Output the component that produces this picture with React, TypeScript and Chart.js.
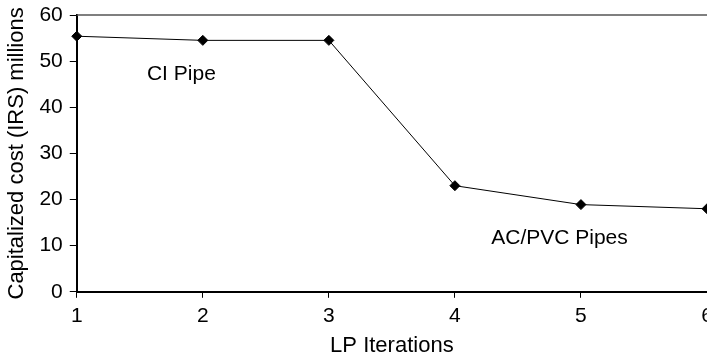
import React, { useEffect, useRef } from "react";
import { Chart, registerables } from "chart.js";

Chart.register(...registerables);

const iterations = [1, 2, 3, 4, 5, 6];
const costs = [55.4, 54.5, 54.5, 23.0, 18.9, 18.0];
const yTicksMax = 60;
const labelTexts = ["CI Pipe", "AC/PVC Pipes"];
const labelX = [1.83, 4.83];
const labelY = [47.2, 11.7];

const FONT = "Arial, 'Liberation Sans', sans-serif";

const annotationPlugin = {
  id: "annots",
  afterDatasetsDraw(chart: any) {
    const { ctx, scales, chartArea } = chart;
    ctx.save();
    ctx.strokeStyle = "#555";
    ctx.lineWidth = 1.5;
    ctx.beginPath();
    ctx.moveTo(chartArea.left, chartArea.top);
    ctx.lineTo(chartArea.right + 2, chartArea.top);
    ctx.stroke();
    ctx.fillStyle = "#000";
    ctx.font = `21px ${FONT}`;
    ctx.textAlign = "center";
    ctx.textBaseline = "middle";
    labelTexts.forEach((t, i) => {
      ctx.fillText(t, scales.x.getPixelForValue(labelX[i]), scales.y.getPixelForValue(labelY[i]));
    });
    ctx.restore();
  },
};

export default function App() {
  const ref = useRef<HTMLCanvasElement>(null);
  useEffect(() => {
    const chart = new Chart(ref.current!, {
      type: "line",
      data: {
        datasets: [
          {
            data: iterations.map((x, i) => ({ x, y: costs[i] })),
            borderColor: "#000",
            backgroundColor: "#000",
            borderWidth: 1,
            pointStyle: "rectRot",
            pointRadius: 5,
            pointHoverRadius: 5,
            tension: 0,
            clip: false as any,
          },
        ],
      },
      options: {
        responsive: false,
        animation: false,
        events: [],
        layout: { padding: { left: 0, right: 53, top: 15, bottom: 0 } },
        plugins: { legend: { display: false }, tooltip: { enabled: false } },
        scales: {
          x: {
            type: "linear",
            min: 1,
            max: 6,
            afterFit: (s: any) => {
              s.paddingRight = 0;
              s.paddingLeft = 0;
            },
            ticks: { stepSize: 1, color: "#000", font: { family: FONT, size: 21 }, padding: 6, maxRotation: 0 },
            grid: { drawOnChartArea: false, drawTicks: true, tickLength: 6, color: "#000", tickWidth: 1 },
            border: { color: "#000", width: 2 },
            title: {
              display: true,
              text: "LP Iterations",
              color: "#000",
              font: { family: FONT, size: 22, lineHeight: 1.0 },
              padding: { top: 0, bottom: 0 },
            },
          },
          y: {
            min: 0,
            max: yTicksMax,
            afterFit: (s: any) => {
              s.paddingTop = 0;
              s.paddingBottom = 0;
            },
            ticks: { stepSize: 10, color: "#000", font: { family: FONT, size: 21 }, padding: 7 },
            grid: { drawOnChartArea: false, drawTicks: true, tickLength: 7, color: "#000", tickWidth: 1 },
            border: { color: "#000", width: 2 },
            title: {
              display: true,
              text: "Capitalized cost (IRS) millions",
              color: "#000",
              font: { family: FONT, size: 22 },
              padding: { top: 4, bottom: 2 },
            },
          },
        },
      },
      plugins: [annotationPlugin],
    });
    return () => chart.destroy();
  }, []);
  return (
    <div style={{ position: "fixed", left: 0, top: 0, width: 707, height: 357, overflow: "hidden", background: "#fff" }}>
      <canvas ref={ref} width={760} height={357} style={{ display: "block" }} />
    </div>
  );
}
